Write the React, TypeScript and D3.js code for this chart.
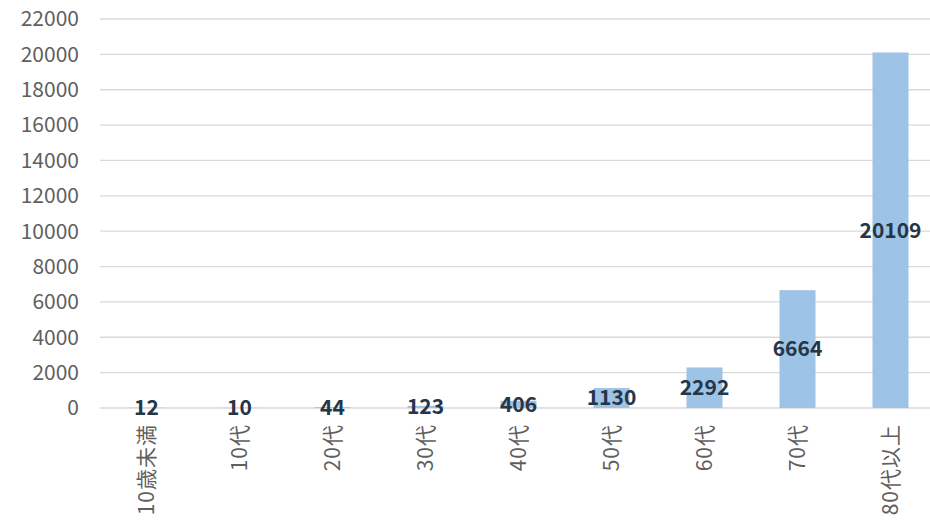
import React from "react";
import * as d3 from "d3";

const categories = ["10歳未満", "10代", "20代", "30代", "40代", "50代", "60代", "70代", "80代以上"];
const values = [12, 10, 44, 123, 406, 1130, 2292, 6664, 20109];
const yTicks = [0, 2000, 4000, 6000, 8000, 10000, 12000, 14000, 16000, 18000, 20000, 22000];

const W = 930;
const H = 525;
const FONT = "'Noto Sans CJK JP', 'Noto Sans', sans-serif";

export default function App() {
  const x = d3.scaleBand<string>().domain(categories).range([100, 937]).paddingInner(0.6).paddingOuter(0.3);
  const y = d3.scaleLinear().domain([0, 22000]).range([408, 19]);
  const bw = 36;
  return (
    <svg width={W} height={H} style={{ position: "absolute", left: 0, top: 0, background: "#fff" }}>
      <rect x={0} y={0} width={W} height={H} fill="#fff" />
      {yTicks.map((t) => (
        <g key={t}>
          <line x1={100} x2={W} y1={y(t)} y2={y(t)} stroke="#d9d9d9" strokeWidth={1.3} />
          <text x={79} y={y(t)} dy="0.35em" textAnchor="end" fontFamily={FONT} fontSize={21} fill="#5f5f5f">
            {t}
          </text>
        </g>
      ))}
      {categories.map((c, i) => {
        const cx = x(c)! + x.bandwidth() / 2;
        const v = values[i];
        return (
          <g key={c}>
            <rect x={cx - bw / 2} y={y(v)} width={bw} height={y(0) - y(v)} fill="#9dc3e6" />
            <text
              x={cx}
              y={(y(v) + y(0)) / 2}
              dy="0.35em"
              textAnchor="middle"
              fontFamily={FONT}
              fontWeight="bold"
              fontSize={21}
              fill="#263548"
            >
              {v}
            </text>
            <text
              transform={`translate(${cx},${424}) rotate(-90)`}
              dy="0.35em"
              textAnchor="end"
              fontFamily={FONT}
              fontSize={21}
              letterSpacing={1}
              fill="#5f5f5f"
            >
              {c}
            </text>
          </g>
        );
      })}
    </svg>
  );
}
